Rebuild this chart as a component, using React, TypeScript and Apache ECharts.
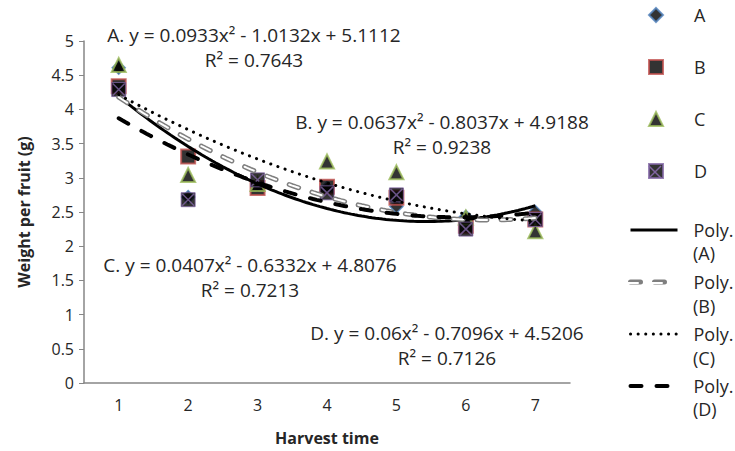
import React, { useEffect, useRef } from "react";
import * as echarts from "echarts";

const harvestTimes = [1, 2, 3, 4, 5, 6, 7];
const seriesA = [4.61, 2.72, 2.9, 2.85, 2.58, 2.43, 2.5];
const seriesB = [4.34, 3.31, 2.85, 2.87, 2.71, 2.3, 2.39];
const seriesC = [4.65, 3.04, 2.91, 3.24, 3.08, 2.42, 2.22];
const seriesD = [4.29, 2.68, 2.97, 2.78, 2.75, 2.25, 2.39];

// trendline coefficients [a, b, c] of y = a x^2 + b x + c (as printed on the chart)
const trendA = [0.0933, -1.0132, 5.1112];
const trendB = [0.0637, -0.8037, 4.9188];
const trendC = [0.0407, -0.6332, 4.8076];
const trendD = [0.06, -0.7096, 4.5206];

const eqTexts = [
  "A. y = 0.0933x² - 1.0132x + 5.1112",
  "B. y = 0.0637x² - 0.8037x + 4.9188",
  "C. y = 0.0407x² - 0.6332x + 4.8076",
  "D. y = 0.06x² - 0.7096x + 4.5206",
];
const r2Texts = ["R² = 0.7643", "R² = 0.9238", "R² = 0.7213", "R² = 0.7126"];
const yTicks = { min: 0, max: 5, interval: 0.5 };
const markerNames = ["A", "B", "C", "D"];
const polyNames = ["Poly. (A)", "Poly. (B)", "Poly. (C)", "Poly. (D)"];
const polySubLabels = ["(A)", "(B)", "(C)", "(D)"];

const FONT = "'Open Sans', 'Noto Sans', sans-serif";

function trendPoints(c: number[]) {
  const pts: number[][] = [];
  const x0 = harvestTimes[0];
  const x1 = harvestTimes[harvestTimes.length - 1];
  const n = 120;
  for (let i = 0; i <= n; i++) {
    const x = x0 + ((x1 - x0) * i) / n;
    pts.push([x, c[0] * x * x + c[1] * x + c[2]]);
  }
  return pts;
}

function pairs(vals: number[]) {
  return harvestTimes.map((x, i) => [x, vals[i]]);
}

export default function App() {
  const ref = useRef<HTMLDivElement>(null);
  useEffect(() => {
    if (!ref.current) return;
    const chart = echarts.init(ref.current, null, { renderer: "svg" });
    const dashB = [10, 14];
    const dashD = [11, 15];
    const dotC = [0.1, 7.5];
    const eqCenters = [
      [254, 35],
      [442, 122],
      [250, 265],
      [447, 333],
    ];
    const graphics: any[] = [];
    eqTexts.forEach((t, i) => {
      graphics.push({
        type: "text",
        x: eqCenters[i][0],
        y: eqCenters[i][1],
        z: 100,
        style: {
          text: t,
          fill: "#262626",
          font: `19px ${FONT}`,
          textAlign: "center",
          textVerticalAlign: "middle",
        },
      });
      graphics.push({
        type: "text",
        x: eqCenters[i][0],
        y: eqCenters[i][1] + 25,
        z: 100,
        style: {
          text: r2Texts[i],
          fill: "#262626",
          font: `19px ${FONT}`,
          textAlign: "center",
          textVerticalAlign: "middle",
        },
      });
    });
    const polyY = [230, 283, 335, 386];
    polySubLabels.forEach((t, i) => {
      graphics.push({
        type: "text",
        x: 693,
        y: polyY[i] + 23,
        z: 100,
        style: {
          text: t,
          fill: "#262626",
          font: `18px ${FONT}`,
          textAlign: "left",
          textVerticalAlign: "middle",
        },
      });
    });
    // inner white dash of legend B icon
    graphics.push({
      type: "line",
      z: 100,
      shape: { x1: 628, y1: polyY[1], x2: 675, y2: polyY[1] },
      style: { stroke: "#ffffff", lineWidth: 2, lineDash: dashB, lineCap: "round" },
    });
    // X of legend D icon
    graphics.push({
      type: "line",
      z: 100,
      shape: { x1: 649, y1: 166, x2: 661, y2: 178 },
      style: { stroke: "#8064A2", lineWidth: 1.5 },
    });
    graphics.push({
      type: "line",
      z: 100,
      shape: { x1: 661, y1: 166, x2: 649, y2: 178 },
      style: { stroke: "#8064A2", lineWidth: 1.5 },
    });

    const option: any = {
      animation: false,
      textStyle: { fontFamily: FONT },
      grid: { left: 84, right: 165, top: 41, bottom: 63, containLabel: false },
      xAxis: {
        type: "value",
        min: 0.5,
        max: 7.5,
        interval: 0.5,
        name: "Harvest time",
        nameLocation: "middle",
        nameGap: 47,
        nameTextStyle: { fontSize: 16, fontWeight: "bold", color: "#262626", fontFamily: FONT },
        axisLine: { lineStyle: { color: "#868686", width: 1.5 } },
        axisTick: { show: false },
        splitLine: { show: false },
        axisLabel: {
          fontSize: 16,
          color: "#262626",
          margin: 14,
          fontFamily: FONT,
          formatter: (v: number) => (Number.isInteger(v) ? String(v) : ""),
        },
      },
      yAxis: {
        type: "value",
        min: yTicks.min,
        max: yTicks.max,
        interval: yTicks.interval,
        name: "Weight per fruit (g)",
        nameLocation: "middle",
        nameGap: 52,
        nameTextStyle: { fontSize: 16, fontWeight: "bold", color: "#262626", fontFamily: FONT },
        axisLine: { show: true, lineStyle: { color: "#868686", width: 1.5 } },
        axisTick: { show: true, length: 5, lineStyle: { color: "#868686" } },
        splitLine: { show: false },
        axisLabel: { fontSize: 16, color: "#262626", margin: 10, fontFamily: FONT },
      },
      legend: [
        {
          orient: "vertical",
          left: 648,
          top: 4,
          padding: 0,
          itemWidth: 14,
          itemHeight: 14,
          itemGap: 30,
          data: markerNames,
          selectedMode: false,
          textStyle: {
            fontSize: 18,
            color: "#262626",
            lineHeight: 22,
            fontFamily: FONT,
            padding: [0, 0, 0, 26],
          },
        },
        {
          orient: "vertical",
          left: 628,
          top: 219,
          padding: 0,
          itemWidth: 47,
          itemHeight: 14,
          itemGap: 30,
          selectedMode: false,
          itemStyle: { color: "rgba(0,0,0,0)", borderColor: "rgba(0,0,0,0)", borderWidth: 0 },
          data: [
            { name: polyNames[0], lineStyle: { width: 3 } },
            { name: polyNames[1], lineStyle: { width: 5 } },
            { name: polyNames[2], lineStyle: { width: 3 } },
            { name: polyNames[3], lineStyle: { width: 4 } },
          ],
          formatter: () => "Poly.",
          textStyle: {
            fontSize: 18,
            color: "#262626",
            lineHeight: 22,
            fontFamily: FONT,
            padding: [0, 0, 0, 11],
          },
        },
      ],
      graphic: graphics,
      series: [
        {
          name: "A",
          type: "scatter",
          data: pairs(seriesA),
          symbol: "diamond",
          symbolSize: 13,
          itemStyle: { color: "#000", borderColor: "#4F81BD", borderWidth: 1.5 },
        },
        {
          name: "B",
          type: "scatter",
          data: pairs(seriesB),
          symbol: "rect",
          symbolSize: 14,
          itemStyle: { color: "#000", borderColor: "#C0504D", borderWidth: 2 },
        },
        {
          name: "C",
          type: "scatter",
          data: pairs(seriesC),
          symbol: "triangle",
          symbolSize: 14,
          itemStyle: { color: "#000", borderColor: "#9BBB59", borderWidth: 2 },
        },
        {
          name: "D",
          type: "scatter",
          data: pairs(seriesD),
          symbol: "rect",
          symbolSize: 14,
          itemStyle: { color: "#000", borderColor: "#8064A2", borderWidth: 1 },
        },
        {
          name: "D-x",
          type: "scatter",
          data: pairs(seriesD),
          symbol: "path://M0,0L10,10M10,0L0,10",
          symbolSize: 12,
          itemStyle: { color: "rgba(0,0,0,0)", borderColor: "#8064A2", borderWidth: 1.5 },
        },
        {
          name: polyNames[0],
          type: "line",
          data: trendPoints(trendA),
          showSymbol: false,
          symbol: "none",
          lineStyle: { color: "#000", width: 3, type: "solid" },
          z: 5,
        },
        {
          name: polyNames[1],
          type: "line",
          data: trendPoints(trendB),
          showSymbol: false,
          symbol: "none",
          lineStyle: { color: "#7f7f7f", width: 5, type: dashB, cap: "round" },
          z: 5,
        },
        {
          name: "B-inner",
          type: "line",
          data: trendPoints(trendB),
          showSymbol: false,
          symbol: "none",
          lineStyle: { color: "#ffffff", width: 2, type: dashB, cap: "round" },
          z: 5,
        },
        {
          name: polyNames[2],
          type: "line",
          data: trendPoints(trendC),
          showSymbol: false,
          symbol: "none",
          lineStyle: { color: "#000", width: 3, type: dotC, cap: "round" },
          z: 5,
        },
        {
          name: polyNames[3],
          type: "line",
          data: trendPoints(trendD),
          showSymbol: false,
          symbol: "none",
          lineStyle: { color: "#000", width: 4, type: dashD, cap: "round" },
          z: 5,
        },
      ],
    };
    chart.setOption(option);
    return () => chart.dispose();
  }, []);
  return <div ref={ref} style={{ width: 735, height: 451, position: "absolute", left: 0, top: 0 }} />;
}
